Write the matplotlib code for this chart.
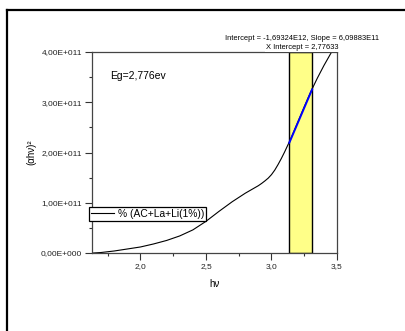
import matplotlib
matplotlib.use("Agg")
import matplotlib.pyplot as plt
from matplotlib.ticker import MultipleLocator, FuncFormatter
from matplotlib.lines import Line2D
import numpy as np

plt.rcParams['font.family'] = ['Liberation Sans', 'DejaVu Sans']

# (alpha*h*nu)^2 vs photon energy
hv = [1.64, 1.70, 1.80, 1.90, 2.00, 2.10, 2.20, 2.30, 2.40, 2.50, 2.60, 2.70,
      2.80, 2.90, 2.925, 2.95, 2.975, 3.00, 3.025, 3.05, 3.075, 3.10, 3.15,
      3.20, 3.25, 3.30, 3.35, 3.40, 3.45, 3.50]
ahv2 = [0.0, 0.01, 0.04, 0.08, 0.12, 0.18, 0.25, 0.34, 0.46, 0.63, 0.83, 1.02,
        1.19, 1.34, 1.385, 1.435, 1.49, 1.56, 1.65, 1.76, 1.88, 2.01, 2.29,
        2.60, 2.91, 3.21, 3.48, 3.73, 3.96, 4.18]
ahv2 = [v * 1e11 for v in ahv2]

# linear fit range and result
fit_lo, fit_hi = 3.136, 3.31
slope = 6.09883e11
intercept = -1.69324e12
x_intercept = 2.77633
series_name = '% (AC+La+Li(1%))'

W, H = 406, 331
fig = plt.figure(figsize=(W / 100, H / 100), dpi=100)
ax = fig.add_axes([92 / W, 1 - 253 / H, 245 / W, 201 / H])

ax.axvspan(fit_lo, fit_hi, facecolor='#ffff88', edgecolor='black', lw=1.0, zorder=1)
ax.plot(hv, ahv2, color='black', lw=0.8, zorder=2)
xf = np.array([fit_lo, fit_hi])
ax.plot(xf, slope * xf + intercept, color='#0000ff', lw=1.4, zorder=3)

ax.set_xlim(1.63, 3.5)
ax.set_ylim(0, 4e11)
ax.xaxis.set_major_locator(MultipleLocator(0.5))
ax.xaxis.set_minor_locator(MultipleLocator(0.25))
ax.yaxis.set_major_locator(MultipleLocator(1e11))
ax.yaxis.set_minor_locator(MultipleLocator(0.5e11))


def sci_fmt(v, pos):
    if v == 0:
        return '0,00E+000'
    e = int(np.floor(np.log10(abs(v))))
    m = v / 10 ** e
    return f'{m:.2f}'.replace('.', ',') + f'E+{e:03d}'


ax.xaxis.set_major_formatter(FuncFormatter(lambda v, p: f'{v:.1f}'.replace('.', ',')))
ax.yaxis.set_major_formatter(FuncFormatter(sci_fmt))
ax.tick_params(which='both', direction='out', color='#333333', labelsize=6,
               labelcolor='#222222', width=0.8)
ax.tick_params(which='major', length=5, pad=2)
ax.tick_params(which='minor', length=2.5)
for s in ax.spines.values():
    s.set_color('#444444')
    s.set_linewidth(0.9)

ax.set_xlabel('hν', fontsize=7, labelpad=7)
ax.set_ylabel('(αhν)²', fontsize=7, labelpad=3)

ax.text(0.073, 0.88, 'Eg=2,776ev', transform=ax.transAxes, fontsize=7.5, va='center')

fig.text(302 / W, 1 - 39 / H,
         f'Intercept = {intercept:.5E}'.replace('.', ',').replace('E+', 'E') +
         f', Slope = {slope:.5E}'.replace('.', ',').replace('E+', 'E'),
         fontsize=5.4, ha='center', va='center')
fig.text(302 / W, 1 - 47.5 / H, f'X Intercept = {x_intercept}'.replace('.', ','),
         fontsize=5.4, ha='center', va='center',
         bbox=dict(facecolor='white', edgecolor='none', pad=0.5), zorder=5)

handle = Line2D([], [], color='black', lw=0.8)
leg = fig.legend([handle], [series_name], loc='upper left',
                 bbox_to_anchor=(89 / W, 1 - 207 / H), fontsize=7.4,
                 fancybox=False, edgecolor='black', framealpha=1,
                 borderpad=0.2, handlelength=2.2, handletextpad=0.4,
                 borderaxespad=0)
leg.get_frame().set_linewidth(0.9)

# page frame
fig.add_artist(Line2D([7 / W, 1], [1 - 10 / H, 1 - 10 / H], color='black', lw=1.6))
fig.add_artist(Line2D([7 / W, 7 / W], [0, 1 - 10 / H], color='black', lw=1.6))

fig.savefig('out.png', dpi=100)
